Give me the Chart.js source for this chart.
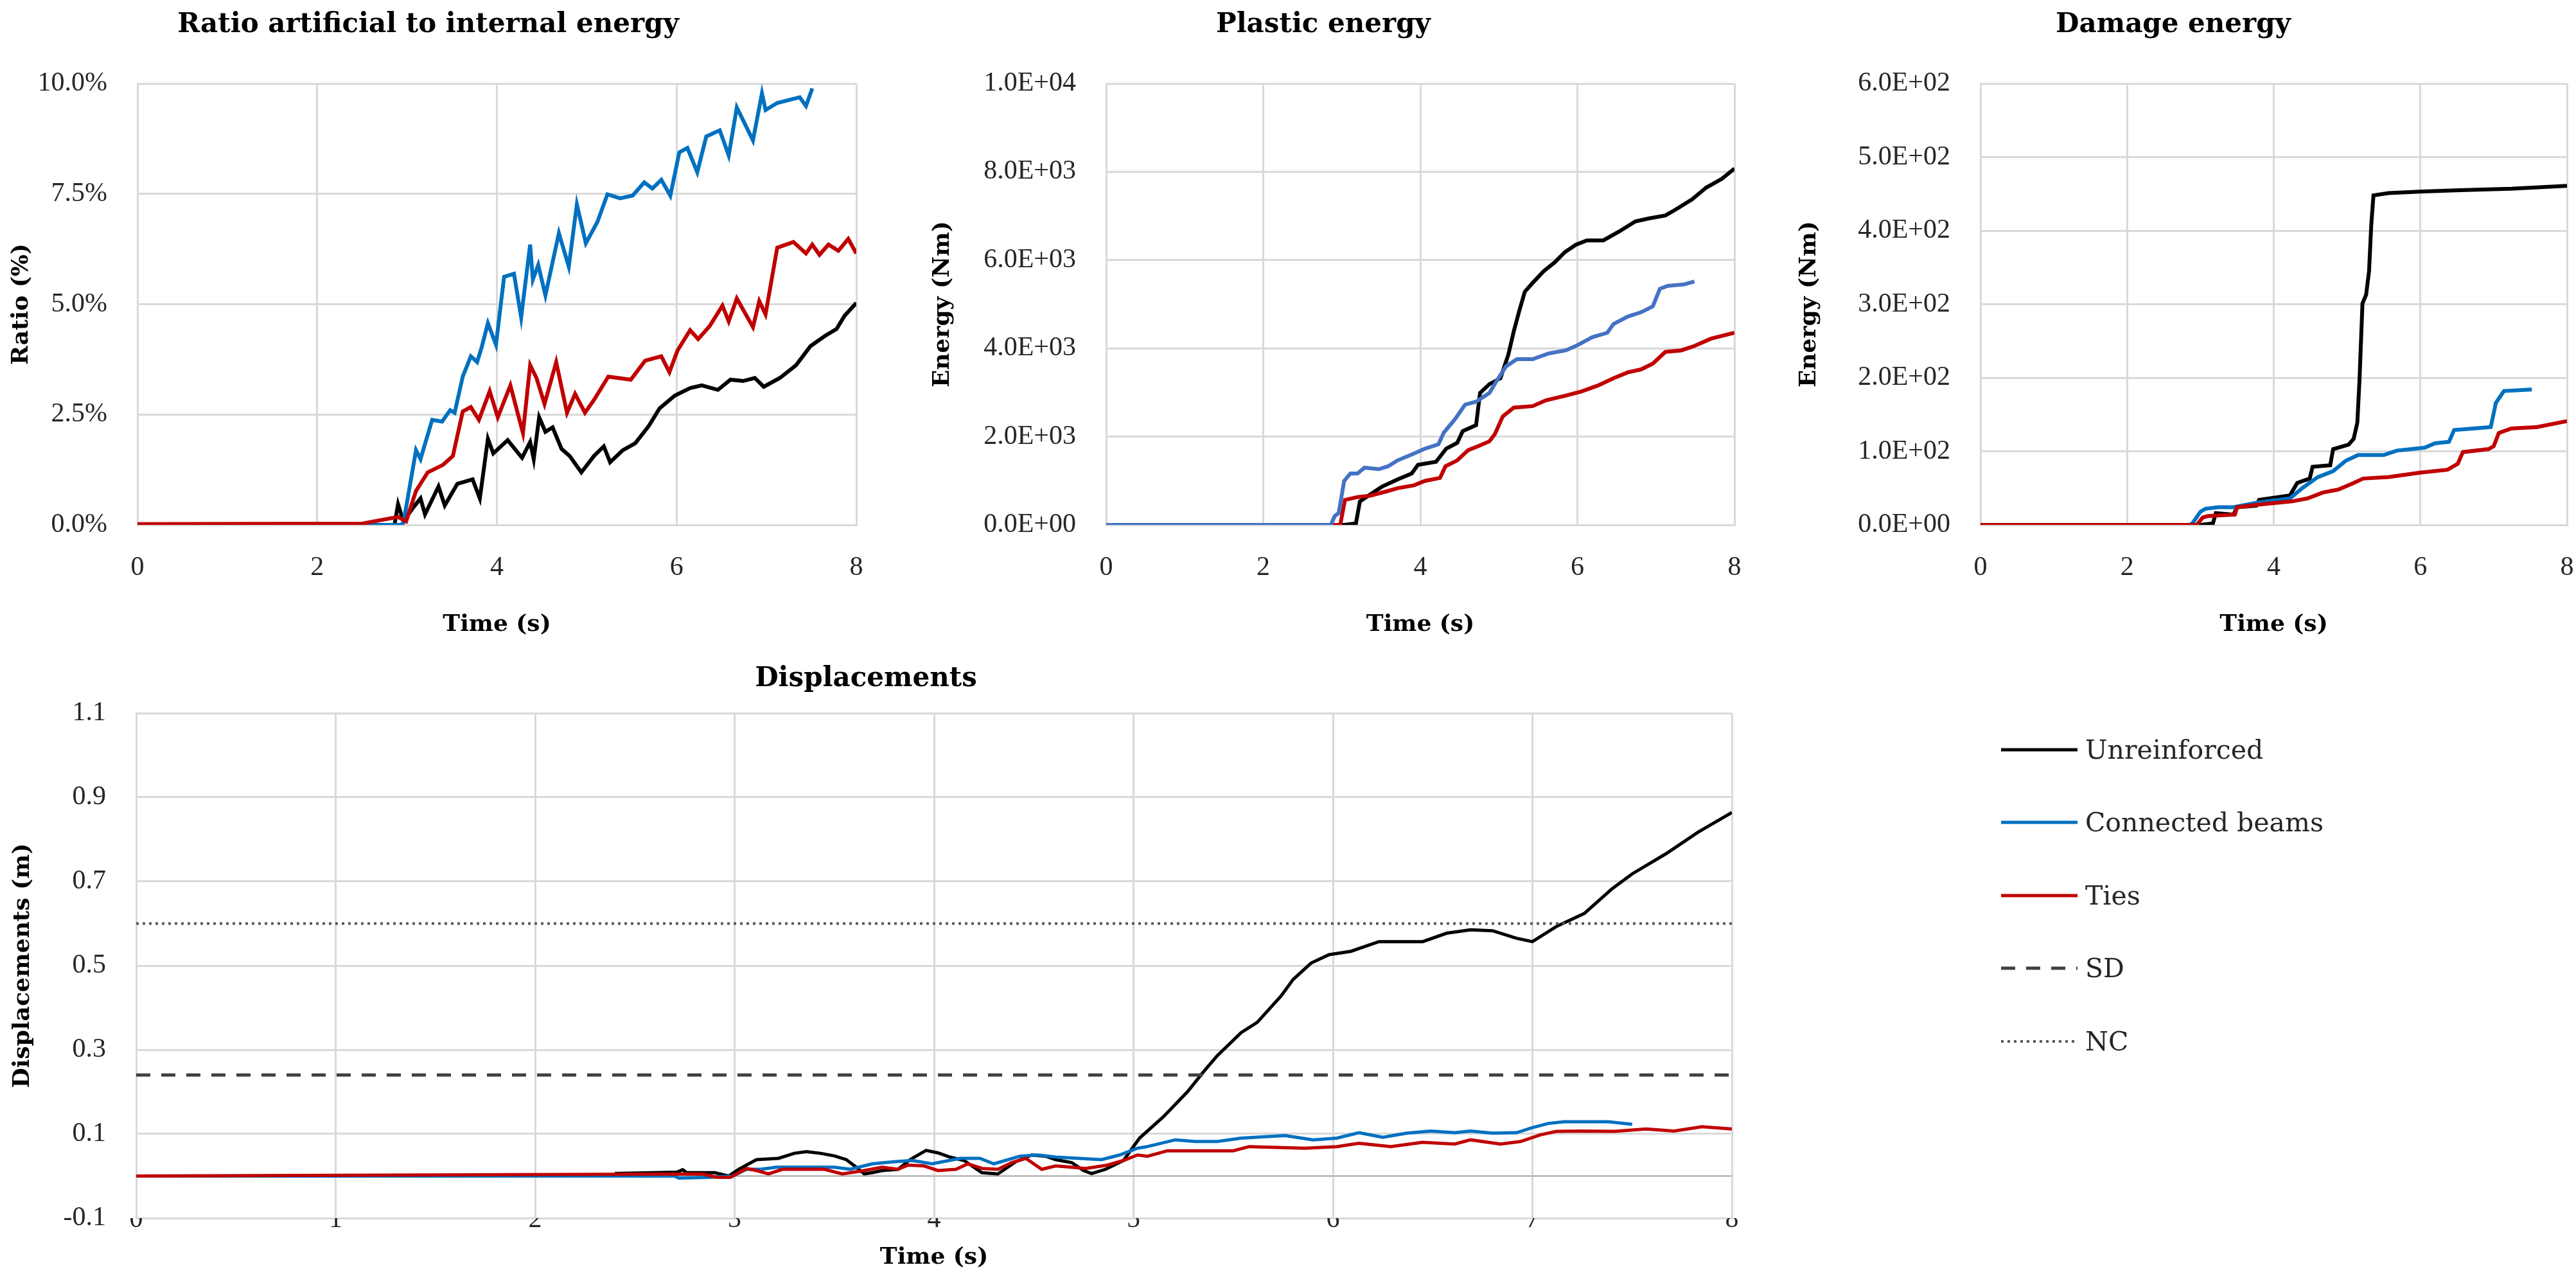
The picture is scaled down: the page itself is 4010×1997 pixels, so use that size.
<!DOCTYPE html>
<html>
<head>
<meta charset="utf-8">
<script src="https://cdn.jsdelivr.net/npm/chart.js@4.4.1/dist/chart.umd.min.js"></script>
<style>
  html, body { margin: 0; padding: 0; background: #fff; overflow: hidden; width: 4010px; height: 1997px; }
  canvas.panel { position: absolute; }
  #legend { position: absolute; left: 3115px; top: 1110px; font-family: 'DejaVu Serif', serif; font-size: 41px; color: #262626; }
  #legend .item { height: 113.5px; display: flex; align-items: center; white-space: nowrap; }
  #legend canvas { margin-right: 12px; }
</style>
</head>
<body>
<canvas id="ratioChart" class="panel" width="1598" height="1000" style="left:0;top:0"></canvas>
<canvas id="plasticChart" class="panel" width="1472" height="1000" style="left:1420px;top:0"></canvas>
<canvas id="damageChart" class="panel" width="1426" height="1000" style="left:2770px;top:0"></canvas>
<canvas id="dispChart" class="panel" width="2930" height="997" style="left:0;top:1000px"></canvas>
<div id="legend"></div>
<script>
// series names
const seriesNames = ['Unreinforced', 'Connected beams', 'Ties'];
const limitNames = ['SD', 'NC'];

// [time (s), value]
// ratio artificial / internal energy (%)
const ratioUnreinforced = [[0,0],[2.86,0],[2.9,0.47],[2.96,0.08],[3.06,0.37],[3.15,0.6],[3.2,0.24],[3.35,0.87],[3.42,0.44],[3.56,0.93],[3.73,1.03],[3.81,0.6],[3.9,1.95],[3.96,1.62],[4.12,1.92],[4.28,1.52],[4.37,1.88],[4.41,1.49],[4.47,2.44],[4.54,2.11],[4.62,2.21],[4.72,1.72],[4.81,1.56],[4.94,1.19],[5.08,1.56],[5.19,1.78],[5.26,1.42],[5.4,1.69],[5.54,1.85],[5.69,2.24],[5.81,2.64],[5.98,2.93],[6.15,3.1],[6.28,3.16],[6.46,3.06],[6.6,3.29],[6.74,3.26],[6.87,3.33],[6.97,3.13],[7.15,3.33],[7.33,3.62],[7.49,4.05],[7.65,4.28],[7.78,4.44],[7.87,4.74],[8.0,5.03]];
const ratioConnected = [[0,0],[2.93,0],[2.96,0.05],[3.1,1.69],[3.15,1.49],[3.28,2.38],[3.39,2.34],[3.48,2.6],[3.53,2.54],[3.62,3.36],[3.71,3.82],[3.78,3.69],[3.83,4.02],[3.9,4.57],[3.99,4.08],[4.08,5.62],[4.19,5.69],[4.27,4.7],[4.37,6.35],[4.4,5.56],[4.46,5.89],[4.54,5.2],[4.69,6.61],[4.8,5.85],[4.89,7.26],[4.99,6.38],[5.12,6.87],[5.23,7.49],[5.37,7.4],[5.51,7.46],[5.64,7.76],[5.73,7.62],[5.83,7.82],[5.93,7.46],[6.03,8.44],[6.12,8.54],[6.23,7.99],[6.33,8.8],[6.48,8.94],[6.58,8.37],[6.67,9.46],[6.85,8.71],[6.95,9.78],[6.99,9.4],[7.12,9.56],[7.37,9.69],[7.44,9.49],[7.51,9.89]];
const ratioTies = [[0,0.02],[2.5,0.03],[2.9,0.18],[2.99,0.08],[3.1,0.77],[3.23,1.19],[3.4,1.36],[3.51,1.56],[3.62,2.57],[3.71,2.67],[3.8,2.38],[3.92,3.03],[4.01,2.44],[4.15,3.16],[4.29,2.08],[4.37,3.62],[4.44,3.33],[4.53,2.74],[4.66,3.69],[4.78,2.54],[4.87,2.97],[4.98,2.54],[5.08,2.83],[5.24,3.36],[5.49,3.29],[5.65,3.72],[5.83,3.82],[5.92,3.46],[6.01,3.95],[6.15,4.41],[6.24,4.21],[6.37,4.51],[6.51,4.97],[6.58,4.61],[6.67,5.13],[6.85,4.48],[6.92,5.07],[6.99,4.77],[7.12,6.28],[7.3,6.41],[7.44,6.15],[7.51,6.35],[7.59,6.12],[7.69,6.35],[7.8,6.21],[7.91,6.48],[8.0,6.15]];

// plastic energy (Nm)
const plasticUnreinforced = [[0,0],[3.03,0],[3.18,33],[3.23,532],[3.37,698],[3.51,864],[3.71,1030],[3.89,1163],[3.97,1362],[4.2,1429],[4.33,1728],[4.47,1860],[4.54,2126],[4.71,2259],[4.76,2990],[4.88,3189],[5.02,3322],[5.12,3854],[5.19,4385],[5.26,4850],[5.33,5282],[5.43,5482],[5.57,5748],[5.71,5947],[5.84,6179],[5.98,6346],[6.12,6445],[6.33,6445],[6.53,6645],[6.74,6877],[6.91,6944],[7.12,7010],[7.25,7143],[7.46,7375],[7.64,7641],[7.84,7841],[8.0,8073]];
const plasticConnected = [[0,0],[2.86,0],[2.91,200],[2.96,266],[3.03,997],[3.11,1163],[3.2,1163],[3.29,1296],[3.47,1262],[3.59,1329],[3.71,1462],[3.89,1595],[4.06,1728],[4.23,1827],[4.3,2093],[4.44,2392],[4.57,2724],[4.71,2791],[4.88,2990],[4.97,3256],[5.09,3588],[5.23,3754],[5.43,3754],[5.64,3887],[5.85,3953],[5.98,4053],[6.19,4252],[6.38,4352],[6.46,4551],[6.64,4718],[6.81,4817],[6.96,4950],[7.05,5349],[7.15,5415],[7.36,5449],[7.49,5515]];
const plasticTies = [[0,0],[2.98,0],[3.04,565],[3.2,631],[3.37,664],[3.58,764],[3.71,831],[3.92,897],[4.06,997],[4.25,1063],[4.32,1329],[4.47,1462],[4.61,1694],[4.75,1794],[4.88,1894],[4.95,2060],[5.05,2458],[5.19,2658],[5.43,2691],[5.6,2824],[5.84,2924],[6.05,3023],[6.26,3156],[6.46,3322],[6.64,3455],[6.81,3522],[6.96,3654],[7.12,3920],[7.32,3953],[7.49,4053],[7.7,4219],[8.0,4352]];

// damage energy (Nm)
const damageUnreinforced = [[0,0],[3.0,0],[3.17,2],[3.21,16],[3.45,14],[3.5,24],[3.76,26],[3.8,34],[4.22,40],[4.32,57],[4.49,63],[4.53,79],[4.77,81],[4.81,103],[5.02,109],[5.09,117],[5.14,139],[5.17,198],[5.21,301],[5.26,313],[5.3,345],[5.33,408],[5.36,448],[5.57,451],[5.99,453],[6.55,455],[7.24,457],[8.0,461]];
const damageConnected = [[0,0],[2.85,0],[2.89,2],[3.0,18],[3.07,22],[3.24,24],[3.45,24],[3.76,30],[4.22,36],[4.39,50],[4.6,65],[4.81,73],[4.98,87],[5.15,95],[5.5,95],[5.68,101],[6.06,105],[6.2,111],[6.39,113],[6.46,129],[6.72,131],[6.96,133],[7.03,166],[7.14,182],[7.52,184]];
const damageTies = [[0,0],[2.95,0],[3.03,10],[3.1,12],[3.47,14],[3.5,24],[3.83,28],[4.25,32],[4.46,36],[4.67,44],[4.88,48],[5.09,57],[5.22,63],[5.57,65],[5.99,71],[6.37,75],[6.51,83],[6.58,99],[6.93,103],[7.0,107],[7.07,125],[7.24,131],[7.59,133],[8.0,141]];

// displacements (m)
const dispUnreinforced = [[2.4,0.006],[2.71,0.009],[2.74,0.015],[2.76,0.008],[2.9,0.008],[2.97,0.0],[3.02,0.016],[3.11,0.039],[3.22,0.042],[3.3,0.054],[3.36,0.058],[3.43,0.054],[3.5,0.048],[3.56,0.039],[3.61,0.021],[3.65,0.005],[3.69,0.008],[3.74,0.013],[3.82,0.016],[3.88,0.039],[3.96,0.061],[4.02,0.055],[4.08,0.045],[4.15,0.037],[4.24,0.008],[4.32,0.005],[4.41,0.034],[4.49,0.05],[4.56,0.047],[4.61,0.039],[4.69,0.032],[4.75,0.013],[4.79,0.006],[4.86,0.016],[4.95,0.037],[5.03,0.09],[5.15,0.141],[5.27,0.2],[5.35,0.247],[5.42,0.286],[5.54,0.341],[5.62,0.365],[5.74,0.428],[5.8,0.467],[5.89,0.506],[5.98,0.526],[6.09,0.534],[6.23,0.557],[6.45,0.557],[6.57,0.577],[6.69,0.585],[6.8,0.583],[6.92,0.565],[7.0,0.557],[7.12,0.593],[7.26,0.624],[7.4,0.683],[7.5,0.718],[7.67,0.766],[7.83,0.817],[8.0,0.864]];
const dispConnected = [[0,0],[2.7,0],[2.72,-0.005],[2.87,-0.003],[2.99,0],[3.06,0.016],[3.13,0.016],[3.21,0.021],[3.5,0.021],[3.58,0.016],[3.69,0.029],[3.8,0.034],[3.89,0.037],[3.99,0.029],[4.13,0.042],[4.23,0.042],[4.3,0.029],[4.43,0.047],[4.52,0.05],[4.61,0.045],[4.84,0.039],[4.93,0.05],[5.02,0.066],[5.07,0.07],[5.21,0.086],[5.31,0.082],[5.42,0.082],[5.54,0.09],[5.76,0.096],[5.9,0.086],[6.02,0.09],[6.13,0.103],[6.25,0.092],[6.37,0.102],[6.49,0.107],[6.61,0.103],[6.69,0.107],[6.8,0.102],[6.92,0.103],[7.0,0.115],[7.08,0.125],[7.16,0.129],[7.38,0.129],[7.5,0.123]];
const dispTies = [[0,0],[2.84,0.005],[2.91,-0.003],[2.98,-0.003],[3.06,0.018],[3.11,0.013],[3.17,0.005],[3.24,0.016],[3.45,0.016],[3.54,0.005],[3.65,0.013],[3.74,0.021],[3.82,0.016],[3.87,0.026],[3.95,0.024],[4.02,0.013],[4.11,0.016],[4.17,0.029],[4.24,0.018],[4.32,0.016],[4.39,0.032],[4.46,0.042],[4.54,0.016],[4.61,0.024],[4.69,0.021],[4.76,0.018],[4.87,0.026],[4.95,0.037],[5.02,0.05],[5.07,0.047],[5.17,0.06],[5.5,0.06],[5.58,0.07],[5.86,0.066],[6.02,0.07],[6.13,0.078],[6.29,0.07],[6.45,0.08],[6.61,0.076],[6.69,0.086],[6.84,0.076],[6.94,0.082],[7.04,0.098],[7.12,0.106],[7.24,0.107],[7.41,0.106],[7.57,0.112],[7.71,0.107],[7.85,0.117],[8.0,0.112]];
const sdLimit = 0.24;
const ncLimit = 0.6;
const timeRange = [0, 8];

const BLACK = '#000000', BLUE = '#0070C0', BLUE2 = '#4472C4', RED = '#C00000';
const GRID = '#d9d9d9';
const boldFont = { family: "'DejaVu Serif', serif", weight: 'bold' };
const tickFont = { family: "'Liberation Serif', serif", size: 42 };

function pts(arr) { return arr.map(([x, y]) => ({ x, y })); }

function line(label, arr, color, order, width) {
  return { label, data: pts(arr), borderColor: color, backgroundColor: color, borderWidth: width || 6,
           pointRadius: 0, tension: 0, order };
}

function sci(v) {
  if (v === 0) return '0.0E+00';
  const e = Math.floor(Math.log10(Math.abs(v)) + 1e-9);
  return (v / Math.pow(10, e)).toFixed(1) + 'E+' + String(e).padStart(2, '0');
}

// htmlLegend: builds the side legend from the displacement datasets
const htmlLegend = {
  id: 'htmlLegend',
  afterUpdate(chart, args, opts) {
    const box = document.getElementById(opts.containerID);
    if (!box) return;
    box.innerHTML = '';
    chart.data.datasets.forEach(ds => {
      const row = document.createElement('div');
      row.className = 'item';
      const c = document.createElement('canvas');
      c.width = 119; c.height = 20;
      const g = c.getContext('2d');
      g.strokeStyle = ds.borderColor;
      g.lineWidth = ds.borderWidth;
      g.setLineDash(ds.borderDash || []);
      g.beginPath(); g.moveTo(0, 10); g.lineTo(119, 10); g.stroke();
      const t = document.createElement('span');
      t.textContent = ds.label;
      row.appendChild(c); row.appendChild(t);
      box.appendChild(row);
    });
  }
};

function panel(id, o) {
  const ctx = document.getElementById(id).getContext('2d');
  return new Chart(ctx, {
    type: 'line',
    data: { datasets: o.datasets },
    plugins: o.plugins || [],
    options: {
      responsive: false,
      animation: false,
      devicePixelRatio: 1,
      layout: { autoPadding: false, padding: o.pad },
      plugins: {
        legend: { display: false },
        tooltip: { enabled: false },
        title: {
          display: true, text: o.title, color: '#000',
          font: Object.assign({ size: 42, lineHeight: 1.2 }, boldFont),
          padding: o.titlePad
        },
        htmlLegend: o.legendOpts || {}
      },
      scales: {
        x: {
          type: 'linear', min: timeRange[0], max: timeRange[1],
          grid: { color: GRID, lineWidth: 3, drawTicks: false },
          border: { color: GRID, width: 3 },
          ticks: { stepSize: o.xStep, color: '#262626', font: Object.assign({ lineHeight: 1 }, tickFont),
                   padding: o.xTickPad, maxRotation: 0 },
          title: { display: true, text: 'Time (s)', color: '#000',
                   font: Object.assign({ size: 36, lineHeight: 1.2 }, boldFont),
                   padding: { top: o.xTitlePad, bottom: 0 } }
        },
        y: {
          min: o.yMin, max: o.yMax,
          afterFit: s => { s.width = o.yWidth; },
          afterBuildTicks: o.afterBuildTicks,
          grid: { color: o.gridColor || GRID, lineWidth: 3, drawTicks: false },
          border: { color: GRID, width: 3 },
          ticks: { stepSize: o.yStep, color: '#262626', font: tickFont, padding: 47, callback: o.yFmt },
          title: { display: true, text: o.yTitle, color: '#000',
                   font: Object.assign({ size: 36, lineHeight: 1.2 }, boldFont),
                   padding: { top: o.yTitlePad, bottom: 0 } }
        }
      }
    }
  });
}

const topPad = { top: 13.8, bottom: 65.8 };

panel('ratioChart', {
  title: 'Ratio artificial to internal energy', titlePad: topPad,
  datasets: [
    line(seriesNames[0], ratioUnreinforced, BLACK, 3),
    line(seriesNames[1], ratioConnected, BLUE, 2),
    line(seriesNames[2], ratioTies, RED, 1)
  ],
  pad: { left: 0, right: 265, top: 0, bottom: 5.8 },
  yWidth: 214, yTitlePad: 12.4, yTitle: 'Ratio (%)',
  yMin: 0, yMax: 10, yStep: 2.5, yFmt: v => v.toFixed(1) + '%',
  xStep: 2, xTickPad: 46, xTitlePad: 0
});

panel('plasticChart', {
  title: 'Plastic energy', titlePad: topPad,
  datasets: [
    line(seriesNames[0], plasticUnreinforced, BLACK, 3),
    line(seriesNames[1], plasticConnected, BLUE2, 1),
    line(seriesNames[2], plasticTies, RED, 2)
  ],
  pad: { left: 0, right: 192, top: 0, bottom: 5.8 },
  yWidth: 302, yTitlePad: 26.4, yTitle: 'Energy (Nm)',
  yMin: 0, yMax: 10000, yStep: 2000, yFmt: v => sci(v),
  xStep: 2, xTickPad: 46, xTitlePad: 0
});

panel('damageChart', {
  title: 'Damage energy', titlePad: topPad,
  datasets: [
    line(seriesNames[0], damageUnreinforced, BLACK, 3),
    line(seriesNames[1], damageConnected, BLUE, 2),
    line(seriesNames[2], damageTies, RED, 1)
  ],
  pad: { left: 0, right: 200, top: 0, bottom: 5.8 },
  yWidth: 313, yTitlePad: 25.4, yTitle: 'Energy (Nm)',
  yMin: 0, yMax: 600, yStep: 100, yFmt: v => sci(v),
  xStep: 2, xTickPad: 46, xTitlePad: 0
});

panel('dispChart', {
  title: 'Displacements', titlePad: { top: 31.8, bottom: 27.8 },
  datasets: [
    line(seriesNames[0], dispUnreinforced, BLACK, 5, 5),
    line(seriesNames[1], dispConnected, BLUE, 4, 5),
    line(seriesNames[2], dispTies, RED, 3, 5),
    Object.assign(line(limitNames[0], [[timeRange[0], sdLimit], [timeRange[1], sdLimit]], '#404040', 2, 5), { borderDash: [22, 17] }),
    Object.assign(line(limitNames[1], [[timeRange[0], ncLimit], [timeRange[1], ncLimit]], '#595959', 1, 4), { borderDash: [4, 6] })
  ],
  plugins: [htmlLegend],
  legendOpts: { containerID: 'legend' },
  pad: { left: 0, right: 234, top: 0, bottom: 17.4 },
  yWidth: 212, yTitlePad: 14.4, yTitle: 'Displacements (m)',
  yMin: -0.1, yMax: 1.1, yStep: 0.2,
  yFmt: v => Math.abs(v) < 1e-9 ? '' : v.toFixed(1),
  // extra line at y = 0 where the horizontal axis crosses
  afterBuildTicks: s => { s.ticks.push({ value: 0 }); s.ticks.sort((a, b) => a.value - b.value); },
  gridColor: c => (c.tick && Math.abs(c.tick.value) < 1e-9) ? '#bfbfbf' : GRID,
  xStep: 1, xTickPad: -18, xTitlePad: 34.4
});
</script>
</body>
</html>
